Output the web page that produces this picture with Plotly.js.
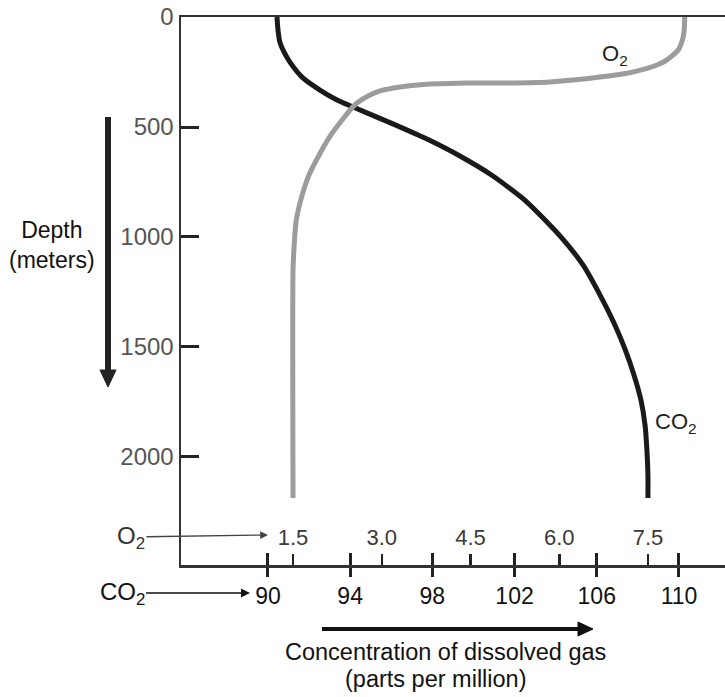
<!DOCTYPE html>
<html>
<head>
<meta charset="utf-8">
<script src="https://cdn.plot.ly/plotly-3.0.1.min.js"></script>
<style>html,body{margin:0;padding:0;background:#fff;}#chart{width:725px;height:697px;}</style>
</head>
<body>
<div id="chart"></div>
<script>
// Depth (m) and CO2 concentration (ppm)
const co2Depth = [0, 59, 114, 159, 205, 277, 332, 377, 409, 486, 555, 632, 723, 841, 995, 1127, 1264, 1391, 1509, 1627, 1741, 1855, 1968, 2082, 2186];
const co2Conc  = [90.44, 90.49, 90.58, 90.78, 91.07, 91.70, 92.53, 93.36, 94.14, 96.08, 97.74, 99.34, 100.95, 102.60, 104.21, 105.33, 106.16, 106.84, 107.37, 107.81, 108.15, 108.35, 108.44, 108.49, 108.49];
// Depth (m) and O2 concentration (ppm)
const o2Depth = [0, 59, 95, 150, 173, 200, 218, 236, 250, 273, 295, 300, 300, 305, 309, 318, 336, 355, 391, 409, 468, 536, 618, 718, 823, 932, 1036, 1150, 2186];
const o2Conc  = [8.12, 8.11, 8.09, 8.01, 7.92, 7.79, 7.65, 7.45, 7.25, 6.69, 5.84, 5.00, 4.44, 3.82, 3.60, 3.31, 2.97, 2.80, 2.58, 2.51, 2.33, 2.14, 1.96, 1.77, 1.64, 1.55, 1.52, 1.50, 1.50];

const depthTicks = [0, 500, 1000, 1500, 2000];
const co2Ticks = [90, 94, 98, 102, 106, 110];
const o2Ticks = [1.5, 3.0, 4.5, 6.0, 7.5];
const o2TickText = ['1.5', '3.0', '4.5', '6.0', '7.5'];

const FONT = 'Liberation Sans, Arial, Helvetica, sans-serif';

const data = [
  {x: co2Conc, y: co2Depth, xaxis: 'x', yaxis: 'y', type: 'scatter', mode: 'lines',
   line: {color: '#1a1a1a', width: 5, shape: 'spline', smoothing: 0.6}, hoverinfo: 'skip'},
  {x: [], y: [], xaxis: 'x3', yaxis: 'y', type: 'scatter', mode: 'lines', hoverinfo: 'skip'},
  {x: o2Conc, y: o2Depth, xaxis: 'x2', yaxis: 'y', type: 'scatter', mode: 'lines',
   line: {color: '#9c9c9c', width: 5, shape: 'spline', smoothing: 0.6}, hoverinfo: 'skip'}
];

const px = v => (v - 181) / 544;
const py = v => (565 - v) / 548;

const layout = {
  width: 725, height: 697,
  margin: {l: 181, r: 0, t: 17, b: 132, pad: 0},
  paper_bgcolor: '#fff', plot_bgcolor: '#fff',
  showlegend: false,
  font: {family: FONT, color: '#111'},
  xaxis: {
    range: [85.77, 112.24], tickmode: 'array', tickvals: co2Ticks,
    ticks: 'outside', ticklen: 9, tickwidth: 3, tickcolor: '#222',
    showline: true, linecolor: '#333', linewidth: 2.5, mirror: true,
    showgrid: false, zeroline: false,
    tickfont: {family: FONT, size: 23, color: '#111'}
  },
  xaxis3: {
    overlaying: 'x', anchor: 'y', side: 'bottom',
    range: [85.77, 112.24], tickmode: 'array', tickvals: co2Ticks,
    ticks: 'inside', ticklen: 12, tickwidth: 3, tickcolor: '#222',
    showticklabels: false, showline: false, showgrid: false, zeroline: false
  },
  xaxis2: {
    overlaying: 'x', anchor: 'free', position: 0, side: 'top',
    range: [-0.393, 8.80], tickmode: 'array', tickvals: o2Ticks, ticktext: o2TickText,
    ticks: 'outside', ticklen: 11, tickwidth: 2.5, tickcolor: '#222',
    showline: false, showgrid: false, zeroline: false,
    tickfont: {family: FONT, size: 22, color: '#3a3a3a'}
  },
  yaxis: {
    range: [2491, 0], tickmode: 'array', tickvals: depthTicks,
    ticks: 'inside', ticklen: 18, tickwidth: 3, tickcolor: '#222',
    showline: true, linecolor: '#333', linewidth: 2.5,
    showgrid: false, zeroline: false,
    tickfont: {family: FONT, size: 24, color: '#555'}
  },
  shapes: [
    // vertical "depth" arrow
    {type: 'line', xref: 'paper', yref: 'paper', x0: px(108), x1: px(108), y0: py(117), y1: py(374),
     line: {color: '#222', width: 6}},
    {type: 'path', xref: 'paper', yref: 'paper',
     path: `M ${px(100)} ${py(370)} L ${px(116)} ${py(370)} L ${px(108)} ${py(387)} Z`,
     fillcolor: '#222', line: {color: '#222', width: 1}},
    // horizontal "concentration" arrow
    {type: 'line', xref: 'paper', yref: 'paper', x0: px(322), x1: px(582), y0: py(629), y1: py(629),
     line: {color: '#111', width: 4}},
    {type: 'path', xref: 'paper', yref: 'paper',
     path: `M ${px(578)} ${py(622)} L ${px(578)} ${py(636)} L ${px(593)} ${py(629)} Z`,
     fillcolor: '#111', line: {color: '#111', width: 1}}
  ],
  annotations: [
    {xref: 'paper', yref: 'paper', x: px(52), y: py(245), text: 'Depth<br>(meters)', showarrow: false,
     font: {family: FONT, size: 23, color: '#111'}, xanchor: 'center', yanchor: 'middle'},
    {xref: 'paper', yref: 'paper', x: px(268), y: py(535), ax: -137, ay: 2, axref: 'pixel', ayref: 'pixel',
     text: 'O<sub>2</sub>', showarrow: true, arrowhead: 2, arrowsize: 1.2, arrowwidth: 1.3, arrowcolor: '#444',
     font: {family: FONT, size: 24, color: '#333'}},
    {xref: 'paper', yref: 'paper', x: px(250), y: py(593), ax: -128, ay: 0, axref: 'pixel', ayref: 'pixel',
     text: 'CO<sub>2</sub>', showarrow: true, arrowhead: 2, arrowsize: 1.2, arrowwidth: 1.5, arrowcolor: '#111',
     font: {family: FONT, size: 24, color: '#111'}},
    {xref: 'paper', yref: 'paper', x: px(445), y: py(652), text: 'Concentration of dissolved gas',
     showarrow: false, font: {family: FONT, size: 23.5, color: '#111'}, xanchor: 'center', yanchor: 'middle'},
    {xref: 'paper', yref: 'paper', x: px(436), y: py(679), text: '(parts per million)',
     showarrow: false, font: {family: FONT, size: 23.5, color: '#111'}, xanchor: 'center', yanchor: 'middle'},
    {xref: 'paper', yref: 'paper', x: px(615), y: py(55), text: 'O<sub>2</sub>', showarrow: false,
     font: {family: FONT, size: 22, color: '#222'}, xanchor: 'center', yanchor: 'middle'},
    {xref: 'paper', yref: 'paper', x: px(676), y: py(423), text: 'CO<sub>2</sub>', showarrow: false,
     font: {family: FONT, size: 22, color: '#222'}, xanchor: 'center', yanchor: 'middle'}
  ]
};

Plotly.newPlot('chart', data, layout, {displayModeBar: false, staticPlot: true});
</script>
</body>
</html>
